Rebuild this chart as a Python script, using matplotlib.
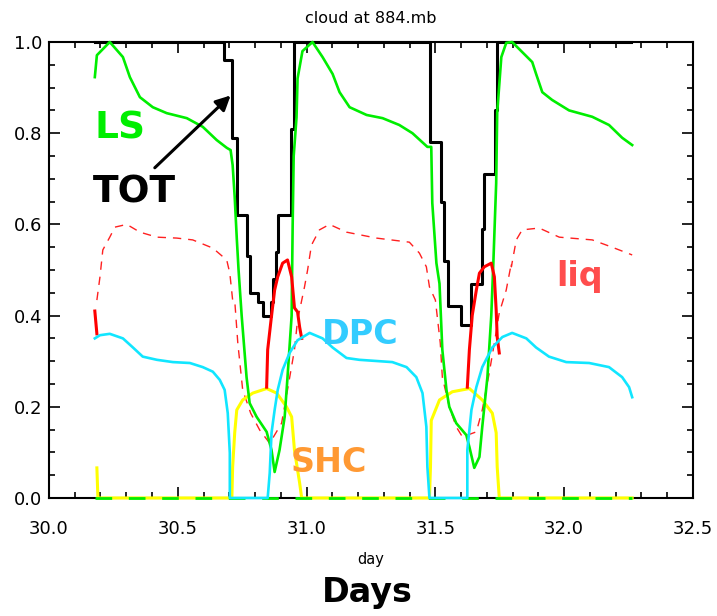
import matplotlib.pyplot as plt
from matplotlib.ticker import MultipleLocator

# total cloud (step changes)
tot_day = [30.18, 30.68, 30.71, 30.73, 30.77, 30.78, 30.81, 30.83, 30.86, 30.87,
           30.88, 30.89, 30.94, 30.95, 31.48, 31.52, 31.535, 31.55, 31.60, 31.64,
           31.68, 31.69, 31.73, 31.74, 32.26]
tot_val = [1.0, 0.96, 0.79, 0.62, 0.53, 0.45, 0.43, 0.40, 0.43, 0.48,
           0.54, 0.62, 0.81, 1.0, 0.78, 0.65, 0.52, 0.42, 0.38, 0.47,
           0.59, 0.71, 0.85, 1.0, 1.0]

# large-scale cloud
ls_day = [30.178, 30.186, 30.236, 30.287, 30.314, 30.353, 30.403, 30.457, 30.535, 30.597,
          30.651, 30.690, 30.705, 30.713, 30.721, 30.729, 30.736, 30.748, 30.767, 30.779,
          30.806, 30.845, 30.864, 30.876, 30.895, 30.915, 30.926, 30.942, 30.946, 30.950,
          30.961, 30.965, 30.984, 31.023, 31.062, 31.101, 31.128, 31.167, 31.233, 31.295,
          31.360, 31.411, 31.469, 31.484, 31.488, 31.504, 31.516, 31.527, 31.543, 31.554,
          31.581, 31.620, 31.632, 31.651, 31.671, 31.682, 31.702, 31.717, 31.725, 31.736,
          31.740, 31.756, 31.775, 31.798, 31.876, 31.891, 31.915, 31.953, 32.019, 32.109,
          32.174, 32.225, 32.264]
ls_val = [0.923, 0.971, 1.0, 0.967, 0.923, 0.879, 0.857, 0.844, 0.833, 0.814,
          0.785, 0.768, 0.763, 0.73, 0.66, 0.57, 0.50, 0.40, 0.265, 0.208,
          0.178, 0.145, 0.105, 0.057, 0.105, 0.178, 0.265, 0.40, 0.60, 0.75,
          0.835, 0.92, 0.98, 1.0, 0.967, 0.93, 0.89, 0.857, 0.84, 0.833,
          0.818, 0.80, 0.77, 0.77, 0.647, 0.515, 0.47, 0.325, 0.237, 0.20,
          0.164, 0.138, 0.112, 0.066, 0.09, 0.156, 0.265, 0.40, 0.515, 0.69,
          0.845, 0.967, 0.998, 1.0, 0.956, 0.93, 0.89, 0.873, 0.85, 0.836,
          0.818, 0.79, 0.774]

# liquid (dashed)
liq_day = [30.186, 30.198, 30.209, 30.236, 30.256, 30.302, 30.353, 30.419, 30.496, 30.558,
           30.636, 30.690, 30.702, 30.713, 30.721, 30.733, 30.752, 30.783, 30.818, 30.857,
           30.903, 30.926, 30.953, 30.965, 30.992, 31.004, 31.016, 31.023, 31.050, 31.089,
           31.155, 31.271, 31.399, 31.438, 31.465, 31.477, 31.500, 31.519, 31.527, 31.554,
           31.581, 31.605, 31.659, 31.682, 31.709, 31.729, 31.748, 31.775, 31.795, 31.795,
           31.814, 31.837, 31.903, 31.981, 32.109, 32.186, 32.264]
liq_val = [0.434, 0.485, 0.544, 0.572, 0.594, 0.60, 0.583, 0.572, 0.57, 0.566,
           0.548, 0.522, 0.493, 0.434, 0.434, 0.34, 0.237, 0.186, 0.149, 0.12,
           0.164, 0.237, 0.325, 0.39, 0.463, 0.50, 0.544, 0.559, 0.588, 0.60,
           0.583, 0.57, 0.561, 0.537, 0.507, 0.463, 0.434, 0.34, 0.265, 0.20,
           0.156, 0.134, 0.145, 0.193, 0.274, 0.34, 0.406, 0.456, 0.515, 0.507,
           0.566, 0.588, 0.592, 0.572, 0.566, 0.55, 0.533]

# liquid (solid, dip periods)
liq1_day = [30.178, 30.186]
liq1_val = [0.41, 0.36]
liq2_day = [30.845, 30.849, 30.864, 30.876, 30.888, 30.907, 30.926, 30.942, 30.953, 30.965,
            30.973, 30.981]
liq2_val = [0.243, 0.325, 0.40, 0.456, 0.485, 0.515, 0.522, 0.485, 0.417, 0.408,
            0.375, 0.35]
liq3_day = [31.624, 31.632, 31.643, 31.659, 31.671, 31.690, 31.717, 31.729, 31.736, 31.740,
            31.748]
liq3_val = [0.243, 0.325, 0.40, 0.456, 0.493, 0.507, 0.515, 0.485, 0.412, 0.353,
            0.318]

# deep convective cloud
dpc_day = [30.178, 30.198, 30.236, 30.287, 30.326, 30.364, 30.419, 30.481, 30.547, 30.597,
           30.636, 30.663, 30.682, 30.694, 30.702, 30.702, 30.849, 30.857, 30.864, 30.876,
           30.888, 30.907, 30.934, 30.965, 31.012, 31.062, 31.101, 31.155, 31.205, 31.333,
           31.388, 31.426, 31.450, 31.465, 31.469, 31.477, 31.624, 31.624, 31.640, 31.659,
           31.682, 31.721, 31.760, 31.798, 31.853, 31.891, 31.941, 32.008, 32.097, 32.174,
           32.225, 32.252, 32.264]
dpc_val = [0.35, 0.357, 0.36, 0.35, 0.33, 0.31, 0.303, 0.298, 0.296, 0.287,
           0.277, 0.259, 0.237, 0.186, 0.099, 0.0, 0.0, 0.055, 0.143, 0.193,
           0.237, 0.281, 0.318, 0.346, 0.362, 0.35, 0.33, 0.307, 0.303, 0.298,
           0.287, 0.265, 0.23, 0.156, 0.068, 0.0, 0.0, 0.105, 0.193, 0.243,
           0.287, 0.33, 0.353, 0.362, 0.35, 0.33, 0.31, 0.298, 0.296, 0.287,
           0.265, 0.243, 0.221]

# shallow convective cloud
shc_day = [30.186, 30.190, 30.710, 30.713, 30.721, 30.729, 30.752, 30.791, 30.845, 30.884,
           30.922, 30.942, 30.953, 30.973, 30.981, 31.477, 31.481, 31.484, 31.516, 31.566,
           31.632, 31.682, 31.721, 31.736, 31.740, 31.748, 32.264]
shc_val = [0.066, 0.0, 0.0, 0.068, 0.143, 0.193, 0.215, 0.23, 0.24, 0.23,
           0.20, 0.178, 0.105, 0.033, 0.0, 0.0, 0.068, 0.17, 0.215, 0.233,
           0.24, 0.215, 0.186, 0.143, 0.068, 0.0, 0.0]

zero_day = [30.178, 32.264]
zero_val = [0.0, 0.0]

fig = plt.figure(figsize=(7.17, 6.16), dpi=100)
ax = fig.add_axes([0.0683, 0.1916, 0.8982, 0.7402])

ax.plot(liq_day, liq_val, color='#ff2020', lw=1.0, ls=(0, (6, 5)), clip_on=False, zorder=3)
ax.plot(shc_day, shc_val, color='#ffff00', lw=2.2, clip_on=False, zorder=3)
ax.plot(zero_day, zero_val, color='#00ee00', lw=2.0, ls=(0, (6, 6)), clip_on=False, zorder=3)
ax.plot(tot_day, tot_val, color='black', lw=2.2, drawstyle='steps-post', clip_on=False, zorder=3)
ax.plot(ls_day, ls_val, color='#00ee00', lw=1.9, clip_on=False, zorder=3)
for d, v in [(liq1_day, liq1_val), (liq2_day, liq2_val), (liq3_day, liq3_val)]:
    ax.plot(d, v, color='#ff0000', lw=2.2, clip_on=False, zorder=3)
ax.plot(dpc_day, dpc_val, color='#11e6ff', lw=1.9, clip_on=False, zorder=3)

ax.set_xlim(30.0, 32.5)
ax.set_ylim(0.0, 1.0)
ax.xaxis.set_major_locator(MultipleLocator(0.5))
ax.xaxis.set_minor_locator(MultipleLocator(0.1))
ax.yaxis.set_major_locator(MultipleLocator(0.2))
ax.yaxis.set_minor_locator(MultipleLocator(0.05))
ax.xaxis.set_major_formatter(plt.FormatStrFormatter('%.1f'))
ax.yaxis.set_major_formatter(plt.FormatStrFormatter('%.1f'))
ax.tick_params(which='both', direction='in', top=True, right=True, width=1.2, labelsize=13)
ax.tick_params(which='major', length=8)
ax.tick_params(which='minor', length=4)
ax.tick_params(axis='x', pad=16)
ax.tick_params(axis='y', pad=5)
for s in ax.spines.values():
    s.set_linewidth(1.5)

ax.set_title('cloud at 884.mb', fontsize=11.5, pad=14)
ax.set_xlabel('day', fontsize=10.5, labelpad=10)
fig.text(0.512, 0.038, 'Days', fontsize=24, fontweight='bold', ha='center', va='center')

ax.text(30.275, 0.81, 'LS', color='#00ee00', fontsize=27, fontweight='bold', ha='center', va='center')
ax.text(30.33, 0.67, 'TOT', color='black', fontsize=27, fontweight='bold', ha='center', va='center')
ax.text(32.06, 0.485, 'liq', color='#ff4d4d', fontsize=24, fontweight='bold', ha='center', va='center')
ax.text(31.21, 0.358, 'DPC', color='#33ccff', fontsize=24, fontweight='bold', ha='center', va='center')
ax.text(31.085, 0.077, 'SHC', color='#ff9933', fontsize=24, fontweight='bold', ha='center', va='center')
ax.annotate('', xy=(30.713, 0.887), xytext=(30.403, 0.72),
            arrowprops=dict(arrowstyle='-|>', color='black', lw=2.2, mutation_scale=22))

plt.savefig('out.png', dpi=100)
